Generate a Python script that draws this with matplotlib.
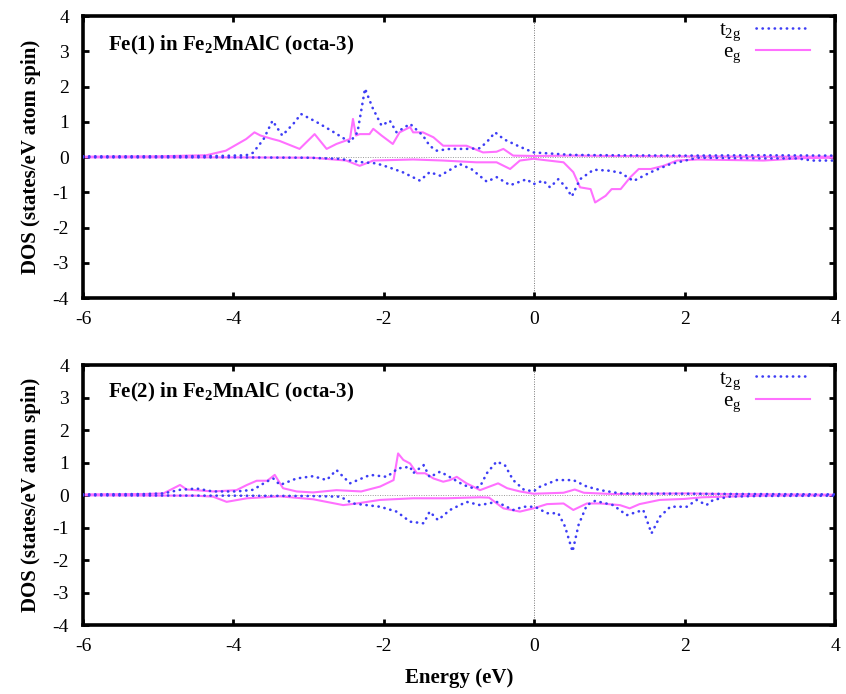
import numpy as np
import matplotlib
matplotlib.use("Agg")
import matplotlib.pyplot as plt
from matplotlib.lines import Line2D

plt.rcParams['font.family'] = ['Liberation Serif', 'DejaVu Serif']
plt.rcParams['mathtext.fontset'] = 'custom'
plt.rcParams['mathtext.rm'] = 'Liberation Serif'
plt.rcParams['mathtext.bf'] = 'Liberation Serif:bold'
plt.rcParams['mathtext.default'] = 'regular'

# ---- Fe(1) panel ----
fe1_t2g_up_E = [-6.0, -5.0, -4.2, -3.83, -3.74, -3.6, -3.48, -3.35, -3.2, -3.10, -2.9, -2.7, -2.45, -2.35,
                -2.25, -2.15, -2.03, -1.92, -1.83, -1.74, -1.65, -1.48, -1.39, -1.30, -1.12, -0.9, -0.72,
                -0.62, -0.52, -0.4, -0.2, -0.01, 0.5, 1.0, 2.0, 3.0, 4.0]
fe1_t2g_up = [0.02, 0.02, 0.03, 0.05, 0.12, 0.5, 1.03, 0.61, 0.95, 1.22, 1.0, 0.75, 0.42, 0.7,
              1.94, 1.4, 0.89, 1.03, 0.70, 0.82, 0.94, 0.61, 0.32, 0.18, 0.23, 0.23, 0.25,
              0.45, 0.70, 0.5, 0.3, 0.13, 0.06, 0.05, 0.04, 0.05, 0.04]

fe1_t2g_dn_E = [-6.0, -4.0, -3.0, -2.6, -2.28, -2.1, -1.95, -1.75, -1.52, -1.39, -1.25, -0.99, -0.83,
                -0.63, -0.50, -0.32, -0.10, -0.01, 0.12, 0.21, 0.32, 0.42, 0.50, 0.61, 0.79, 1.01, 1.15,
                1.32, 1.55, 1.81, 2.17, 2.6, 3.0, 3.5, 3.7, 4.0]
fe1_t2g_dn = [-0.01, -0.01, -0.02, -0.05, -0.15, -0.18, -0.28, -0.43, -0.67, -0.43, -0.53, -0.2, -0.35,
              -0.7, -0.57, -0.8, -0.63, -0.77, -0.67, -0.86, -0.63, -0.85, -1.12, -0.63, -0.36, -0.39, -0.45,
              -0.68, -0.43, -0.2, -0.02, -0.03, -0.04, -0.04, -0.1, -0.1]

fe1_eg_up_E = [-6.0, -5.0, -4.36, -4.10, -3.83, -3.72, -3.64, -3.48, -3.39, -3.12, -2.92, -2.76, -2.63,
               -2.45, -2.41, -2.37, -2.32, -2.19, -2.14, -2.03, -1.88, -1.79, -1.65, -1.61, -1.48, -1.34,
               -1.21, -0.90, -0.68, -0.50, -0.41, -0.28, 0.0, 0.5, 1.0, 2.0, 3.0, 4.0]
fe1_eg_up = [0.01, 0.02, 0.05, 0.18, 0.51, 0.70, 0.61, 0.51, 0.46, 0.23, 0.65, 0.23, 0.37,
             0.51, 1.08, 0.61, 0.65, 0.65, 0.80, 0.61, 0.37, 0.70, 0.85, 0.70, 0.70, 0.56,
             0.32, 0.32, 0.13, 0.15, 0.23, 0.04, 0.03, 0.04, 0.03, 0.02, 0.01, 0.01]

fe1_eg_dn_E = [-6.0, -4.0, -2.95, -2.5, -2.32, -2.14, -1.61, -1.21, -0.77, -0.50, -0.32, -0.19, -0.01,
               0.39, 0.52, 0.61, 0.75, 0.81, 0.95, 1.03, 1.15, 1.28, 1.39, 1.55, 1.72, 1.90, 2.17, 3.05,
               3.6, 4.0]
fe1_eg_dn = [-0.01, -0.01, -0.02, -0.1, -0.25, -0.1, -0.07, -0.1, -0.15, -0.15, -0.34, -0.1, -0.05,
             -0.15, -0.43, -0.86, -0.91, -1.29, -1.10, -0.91, -0.91, -0.57, -0.34, -0.34, -0.25, -0.1,
             -0.07, -0.1, -0.03, -0.02]

# ---- Fe(2) panel ----
fe2_t2g_up_E = [-6.0, -5.2, -4.93, -4.71, -4.49, -4.27, -3.96, -3.74, -3.56, -3.47, -3.38, -3.16, -2.94,
                -2.76, -2.63, -2.45, -2.18, -1.96, -1.81, -1.65, -1.61, -1.47, -1.39, -1.25, -1.12, -0.94,
                -0.81, -0.72, -0.63, -0.50, -0.39, -0.28, -0.14, -0.01, 0.08, 0.30, 0.52, 0.70, 0.88,
                1.14, 2.0, 3.0, 4.0]
fe2_t2g_up = [0.02, 0.03, 0.05, 0.16, 0.20, 0.11, 0.11, 0.16, 0.41, 0.51, 0.31, 0.51, 0.58,
              0.46, 0.77, 0.36, 0.62, 0.56, 0.82, 0.87, 0.67, 0.92, 0.55, 0.72, 0.55, 0.31,
              0.21, 0.26, 0.67, 1.03, 0.92, 0.46, 0.17, 0.11, 0.26, 0.46, 0.46, 0.26, 0.15,
              0.05, 0.04, 0.03, 0.02]

fe2_t2g_dn_E = [-6.0, -4.0, -3.0, -2.58, -2.41, -2.05, -1.83, -1.65, -1.47, -1.39, -1.28, -1.12, -0.90,
                -0.72, -0.50, -0.28, -0.14, 0.01, 0.17, 0.32, 0.41, 0.51, 0.59, 0.70, 0.81, 1.05, 1.23,
                1.45, 1.56, 1.67, 1.81, 2.03, 2.16, 2.29, 2.38, 2.60, 3.0, 4.0]
fe2_t2g_dn = [-0.01, -0.02, -0.03, -0.05, -0.26, -0.36, -0.51, -0.82, -0.87, -0.51, -0.77, -0.46, -0.21,
              -0.31, -0.21, -0.46, -0.36, -0.36, -0.56, -0.56, -0.97, -1.74, -0.92, -0.31, -0.18, -0.31,
              -0.62, -0.46, -1.18, -0.67, -0.36, -0.36, -0.15, -0.31, -0.15, -0.05, -0.03, -0.02]

fe2_eg_up_E = [-6.0, -5.2, -4.93, -4.71, -4.62, -4.27, -3.96, -3.82, -3.69, -3.55, -3.45, -3.34, -3.16,
               -2.94, -2.63, -2.3, -2.05, -1.87, -1.81, -1.74, -1.65, -1.56, -1.45, -1.34, -1.21, -1.12,
               -1.03, -0.90, -0.77, -0.72, -0.48, -0.36, -0.19, -0.01, 0.39, 0.54, 0.66, 1.05, 2.0,
               2.6, 4.0]
fe2_eg_up = [0.02, 0.03, 0.05, 0.31, 0.17, 0.11, 0.15, 0.31, 0.44, 0.44, 0.62, 0.21, 0.11,
             0.08, 0.15, 0.11, 0.26, 0.46, 1.28, 1.08, 0.97, 0.67, 0.67, 0.51, 0.41, 0.46,
             0.56, 0.36, 0.21, 0.15, 0.36, 0.21, 0.11, 0.04, 0.07, 0.17, 0.07, 0.03, 0.05,
             0.03, 0.01]

fe2_eg_dn_E = [-6.0, -4.5, -4.27, -4.09, -3.82, -3.38, -2.94, -2.54, -2.36, -2.05, -1.61, -1.17, -0.72,
               -0.60, -0.41, -0.19, -0.01, 0.17, 0.39, 0.52, 0.70, 0.88, 1.14, 1.27, 1.40, 1.67, 2.0,
               2.23, 3.0, 4.0]
fe2_eg_dn = [-0.01, -0.02, -0.05, -0.21, -0.10, -0.04, -0.13, -0.31, -0.26, -0.15, -0.10, -0.10, -0.07,
             -0.08, -0.41, -0.51, -0.41, -0.28, -0.26, -0.46, -0.26, -0.26, -0.31, -0.41, -0.28, -0.15,
             -0.12, -0.07, -0.02, -0.01]

titles = [r"Fe(1) in Fe$_\mathbf{2}$MnAlC (octa-3)", r"Fe(2) in Fe$_\mathbf{2}$MnAlC (octa-3)"]
panels = [
    (fe1_t2g_up_E, fe1_t2g_up, fe1_t2g_dn_E, fe1_t2g_dn, fe1_eg_up_E, fe1_eg_up, fe1_eg_dn_E, fe1_eg_dn),
    (fe2_t2g_up_E, fe2_t2g_up, fe2_t2g_dn_E, fe2_t2g_dn, fe2_eg_up_E, fe2_eg_up, fe2_eg_dn_E, fe2_eg_dn),
]

blue = '#3d3df5'
pink = '#ff70ff'
dots = (0, (0.1, 2.2))

fig = plt.figure(figsize=(8.46, 6.94), dpi=100)
rects = [[0.0981, 0.5706, 0.8889, 0.4063], [0.0981, 0.0994, 0.8889, 0.3746]]

for k in range(2):
    ax = fig.add_axes(rects[k])
    tu_E, tu, td_E, td, eu_E, eu, ed_E, ed = panels[k]
    ax.axhline(0, color='#999999', lw=0.7, ls=(0, (1, 1.5)), zorder=1)
    ax.axvline(0, color='#777777', lw=0.7, ls=(0, (1, 1.5)), zorder=1)
    ax.plot(eu_E, eu, color=pink, lw=1.5, zorder=2)
    ax.plot(ed_E, ed, color=pink, lw=1.5, zorder=2)
    ax.plot(tu_E, tu, color=blue, lw=1.9, ls=dots, dash_capstyle='round', zorder=3)
    ax.plot(td_E, td, color=blue, lw=1.9, ls=dots, dash_capstyle='round', zorder=3)

    ax.set_xlim(-6, 4)
    ax.set_ylim(-4, 4)
    ax.set_xticks([-6, -4, -2, 0, 2, 4])
    ax.set_yticks(range(-4, 5))
    ax.set_xticklabels(['-6', '-4', '-2', '0', '2', '4'])
    ax.set_yticklabels([str(v) for v in range(-4, 5)])
    ax.tick_params(direction='in', top=True, right=True, length=4, width=2, labelsize=14)
    ax.tick_params(axis='y', pad=10)
    ax.tick_params(axis='x', pad=9)
    for s in ax.spines.values():
        s.set_linewidth(2.6)
    ax.set_ylabel('DOS (states/eV atom spin)', fontsize=15, fontweight='bold', labelpad=8)
    ax.text(0.033, 0.895, titles[k], transform=ax.transAxes, fontsize=15, fontweight='bold',
            va='center', ha='left')

    handles = [Line2D([], [], color=blue, lw=1.9, ls=dots, dash_capstyle='round'),
               Line2D([], [], color=pink, lw=1.5)]
    ax.legend(handles, ['t$_{2g}$', 'e$_g$'], loc='upper right', bbox_to_anchor=(0.967, 0.985),
              frameon=False, markerfirst=False, fontsize=15, handlelength=2.6, handletextpad=0.7,
              labelspacing=0.0, borderpad=0, borderaxespad=0)
    if k == 1:
        ax.set_xlabel('Energy (eV)', fontsize=15, fontweight='bold', labelpad=10)

fig.savefig('out.png', dpi=100)
